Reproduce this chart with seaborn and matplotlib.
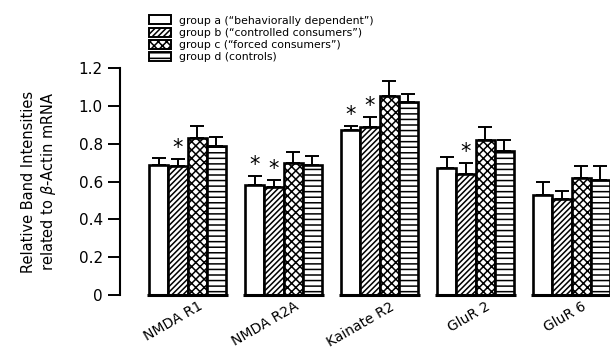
import numpy as np
import pandas as pd
import seaborn as sns
import matplotlib.pyplot as plt
import matplotlib.transforms as mtransforms
from matplotlib.patches import Patch

# Receptor subunits on the x axis
receptors = ["NMDA R1", "NMDA R2A", "Kainate R2", "GluR 2", "GluR 6"]

# Group names for the legend
group_names = [
    "group a (\u201cbehaviorally dependent\u201d)",
    "group b (\u201ccontrolled consumers\u201d)",
    "group c (\u201cforced consumers\u201d)",
    "group d (controls)",
]

# Mean relative band intensities (relative to beta-actin mRNA)
group_a = [0.69, 0.58, 0.87, 0.67, 0.53]
group_b = [0.68, 0.57, 0.89, 0.64, 0.51]
group_c = [0.83, 0.70, 1.05, 0.82, 0.62]
group_d = [0.79, 0.69, 1.02, 0.76, 0.61]

# Standard errors (upper bars only)
err_a = [0.035, 0.05, 0.025, 0.06, 0.07]
err_b = [0.04, 0.04, 0.05, 0.06, 0.04]
err_c = [0.065, 0.055, 0.08, 0.07, 0.06]
err_d = [0.045, 0.045, 0.045, 0.06, 0.07]

# Significance markers: (group index, receptor index)
significant = [(1, 0), (0, 1), (1, 1), (0, 2), (1, 2), (1, 3)]

y_ticks = [0, 0.2, 0.4, 0.6, 0.8, 1.0, 1.2]
y_tick_labels = ["0", "0.2", "0.4", "0.6", "0.8", "1.0", "1.2"]

means = [group_a, group_b, group_c, group_d]
errors = [err_a, err_b, err_c, err_d]
hatches = ["", "//////", "xxxx", "---"]

sns.set_theme(style="ticks")
plt.rcParams["font.family"] = ["DejaVu Sans"]
plt.rcParams["hatch.linewidth"] = 1.1
plt.rcParams["hatch.color"] = "black"
for key in ["text.color", "axes.labelcolor", "xtick.color", "ytick.color"]:
    plt.rcParams[key] = "black"

df = pd.DataFrame({
    "receptor": np.tile(receptors, len(group_names)),
    "group": np.repeat(group_names, len(receptors)),
    "value": np.concatenate(means),
})

fig = plt.figure(figsize=(6.10, 3.56), dpi=100)
ax = fig.add_axes([0.197, 0.171, 0.803, 0.638])

sns.barplot(
    data=df, x="receptor", y="value", hue="group",
    palette=["white"] * 4, saturation=1, edgecolor="black", linewidth=1.9,
    width=0.8, errorbar=None, legend=False, ax=ax,
)

bar_containers = list(ax.containers)
for gi, cont in enumerate(bar_containers):
    xs, tops = [], []
    for bar in cont.patches:
        bar.set_hatch(hatches[gi])
        xs.append(bar.get_x() + bar.get_width() / 2)
        tops.append(bar.get_height())
    ax.errorbar(xs, tops, yerr=[np.zeros(len(xs)), errors[gi]], fmt="none",
                ecolor="black", elinewidth=1.4, capsize=5, capthick=1.4, zorder=1)
    for ri, x in enumerate(xs):
        if (gi, ri) in significant:
            ax.text(x, tops[ri] + errors[gi][ri] + 0.005, "*", ha="center",
                    va="bottom", fontsize=15, color="black")

# Baseline segment under each receptor group
for ri in range(len(receptors)):
    first = bar_containers[0].patches[ri]
    last = bar_containers[-1].patches[ri]
    left = first.get_x()
    right = last.get_x() + last.get_width()
    ax.plot([left - 0.02, right + 0.02], [0, 0], color="black", lw=2.2,
            solid_capstyle="butt", clip_on=False, zorder=3)

ax.set_xlim(-0.703, 4.40)
ax.set_ylim(0, 1.2)
ax.set_yticks(y_ticks)
ax.set_yticklabels(y_tick_labels, fontsize=11)
ax.tick_params(axis="y", direction="out", length=9, width=1.4)
ax.tick_params(axis="x", length=0, pad=3)
ax.set_xticks(range(len(receptors)))
ax.set_xticklabels(receptors, rotation=30, ha="right", rotation_mode="anchor",
                   fontsize=10)
shift = mtransforms.ScaledTranslation(10 / 100, 0, fig.dpi_scale_trans)
for lab in ax.get_xticklabels():
    lab.set_transform(lab.get_transform() + shift)
ax.set_xlabel("")
ax.set_ylabel("Relative Band Intensities\nrelated to $\\beta$-Actin mRNA",
              fontsize=10.5, labelpad=15)

for side in ["top", "right", "bottom"]:
    ax.spines[side].set_visible(False)
ax.spines["left"].set_linewidth(1.5)
ax.spines["left"].set_color("black")

handles = [Patch(facecolor="white", edgecolor="black", hatch=h, linewidth=1.4)
           for h in hatches]
fig.legend(handles, group_names, loc="upper left", bbox_to_anchor=(0.232, 0.978),
           frameon=False, fontsize=7.8, handlelength=2.0, handleheight=0.9,
           labelspacing=0.18, handletextpad=0.8, borderpad=0.2)

fig.savefig("out.png", dpi=100)
